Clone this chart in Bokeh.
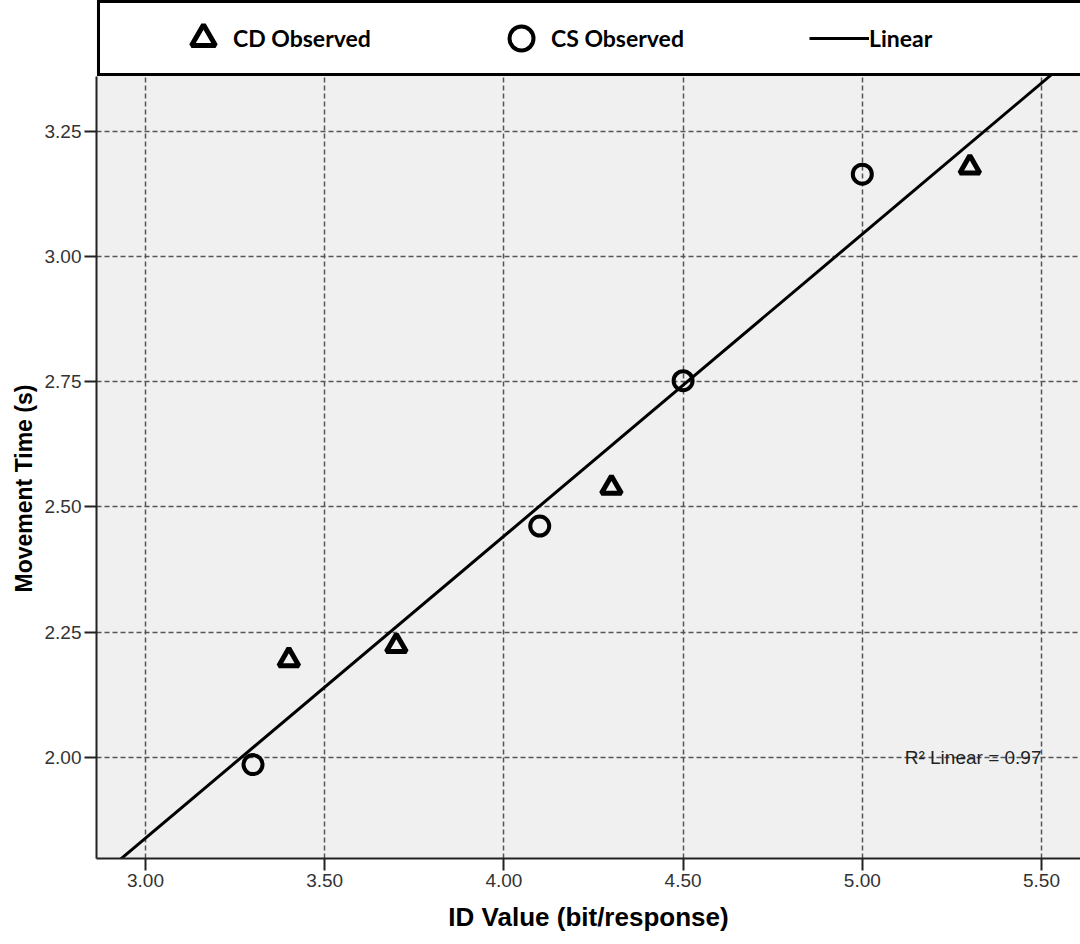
import numpy as np
from bokeh.plotting import figure
from bokeh.models import (Legend, LegendItem, FixedTicker, NumeralTickFormatter,
                          Label, Range1d, Title)
from bokeh.embed import file_html
from bokeh.resources import INLINE

# Index of difficulty vs. movement time, two conditions
cd_id = [3.4, 3.7, 4.3, 5.3]
cd_mt = [2.195, 2.223, 2.539, 3.178]
cs_id = [3.3, 4.1, 4.5, 5.0]
cs_mt = [1.986, 2.462, 2.752, 3.164]

x_ticks = [3.0, 3.5, 4.0, 4.5, 5.0, 5.5]
y_ticks = [2.0, 2.25, 2.5, 2.75, 3.0, 3.25]

# Linear fit over both conditions
all_x = np.array(cd_id + cs_id)
all_y = np.array(cd_mt + cs_mt)
slope, intercept = np.polyfit(all_x, all_y, 1)
r2 = np.corrcoef(all_x, all_y)[0, 1] ** 2

x_lo, x_hi = 2.8633, 5.6088
# the frame runs to the top of the page; the legend box sits over its top strip
y_lo, y_hi = 1.7987, 3.5105
y_axis_top = 3.359

p = figure(width=1080, height=944,
           x_range=Range1d(x_lo, x_hi), y_range=Range1d(y_lo, y_hi),
           output_backend="svg", toolbar_location=None,
           min_border_left=96, min_border_right=0,
           min_border_top=0, min_border_bottom=86)
p.background_fill_color = "#f0f0f0"
p.border_fill_color = "white"
p.outline_line_color = None

fit_x = np.array([x_lo, x_hi])
fit = p.line(fit_x, intercept + slope * fit_x, line_color="black", line_width=3)

tri = p.scatter(cd_id, cd_mt, marker="triangle", size=20, fill_color=None,
                line_color="black", line_width=5)
circ = p.scatter(cs_id, cs_mt, marker="circle", size=19, fill_color=None,
                 line_color="black", line_width=4)

# grid
p.grid.grid_line_color = "#555555"
p.grid.grid_line_dash = "5 3"
p.grid.grid_line_width = 1.5

# axes
p.xaxis.ticker = FixedTicker(ticks=x_ticks)
p.yaxis.ticker = FixedTicker(ticks=y_ticks)
p.yaxis.bounds = (y_lo, y_axis_top)
p.axis.formatter = NumeralTickFormatter(format="0.00")
p.axis.axis_line_width = 2
p.axis.axis_line_color = "#222222"
p.axis.major_tick_out = 12
p.axis.major_tick_in = 0
p.axis.major_tick_line_width = 2
p.axis.major_tick_line_color = "#222222"
p.axis.minor_tick_line_color = None
p.axis.major_label_text_font = "Liberation Sans"
p.axis.major_label_text_font_size = "19px"
p.axis.major_label_text_color = "#333333"
p.axis.major_label_standoff = 3
p.xaxis.axis_label = "ID Value (bit/response)"
p.xaxis.axis_label_text_font = "Liberation Sans"
p.xaxis.axis_label_text_font_style = "bold"
p.xaxis.axis_label_text_color = "black"
p.xaxis.axis_label_text_font_size = "26px"
p.xaxis.axis_label_standoff = 12

# y title, centred on the visible part of the axis rather than the whole frame
p.add_layout(Title(text="Movement Time (s)", align="left", offset=266,
                   text_font="Liberation Sans", text_font_style="bold",
                   text_font_size="23px", text_color="black", standoff=9),
             "left")

p.add_layout(Label(x=5.5, y=2.0, text=f"R\u00b2 Linear = {r2:.2f}",
                   text_align="right", text_baseline="alphabetic",
                   text_font="Liberation Sans", text_font_size="19px",
                   text_color="#222222"))

legend = Legend(
    items=[LegendItem(label="CD Observed", renderers=[tri]),
           LegendItem(label="CS Observed", renderers=[circ]),
           LegendItem(label="Linear", renderers=[fit])],
    orientation="horizontal", location=(1, 782),
    glyph_width=60, glyph_height=60, label_standoff=0,
    label_width=210, spacing=48, padding=5, margin=0,
    title=" ", title_location="left", title_standoff=67,
    title_text_font_size="1px",
    border_line_color="black", border_line_width=3, border_line_alpha=1,
    background_fill_color="white", background_fill_alpha=1,
    label_text_font="Lato", label_text_font_style="bold",
    label_text_font_size="23px", label_text_color="black",
)
p.add_layout(legend, "center")

open("out.html", "w").write(file_html(p, INLINE))
